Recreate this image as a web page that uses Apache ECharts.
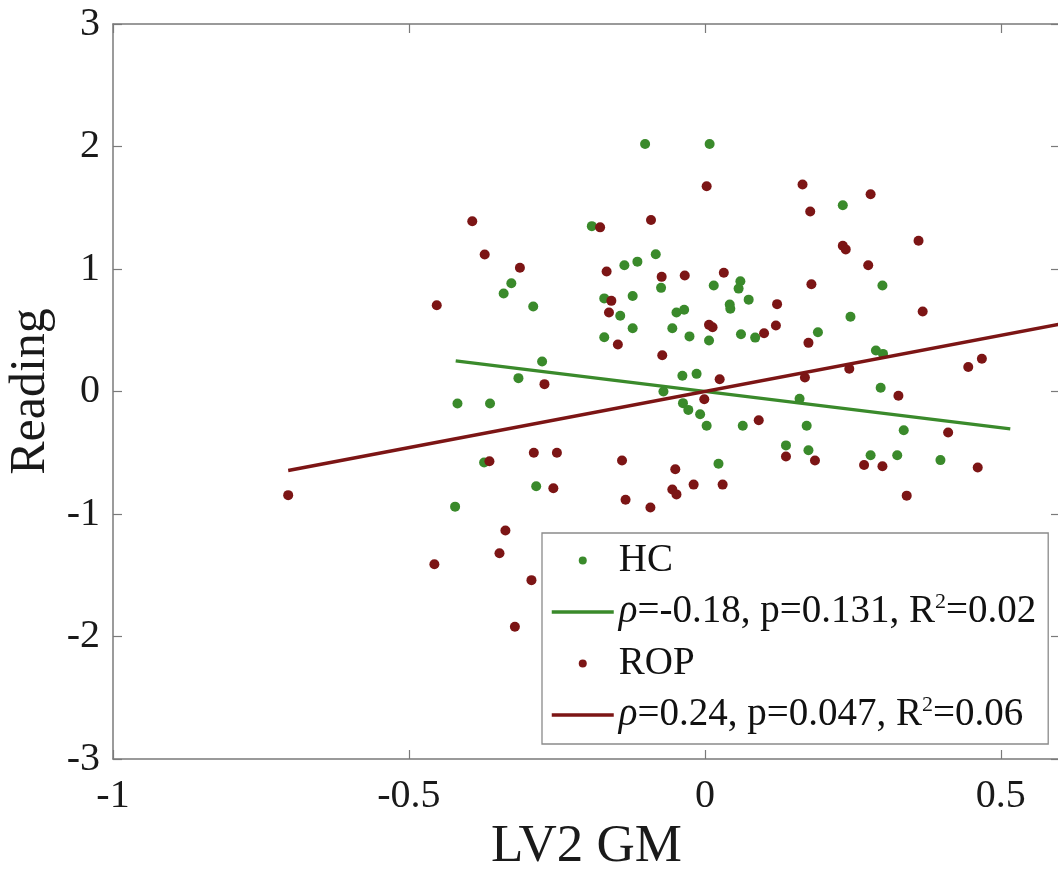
<!DOCTYPE html>
<html>
<head>
<meta charset="utf-8">
<script src="https://cdn.jsdelivr.net/npm/echarts@6/dist/echarts.min.js"></script>
<style>
html,body{margin:0;padding:0;background:#fff;}
#chart{width:1058px;height:870px;}
</style>
</head>
<body>
<div id="chart"></div>
<script>
// ---- data ----
var hcX = [-0.101,0.008,0.233,-0.191,-0.083,-0.136,-0.114,0.015,0.06,0.057,0.30,-0.074,-0.170,-0.122,0.074,0.042,0.043,-0.048,-0.035,-0.143,0.246,-0.122,-0.055,-0.170,-0.026,0.007,0.061,0.085,0.191,0.289,0.301,-0.038,-0.014,-0.070,0.16,0.297,-0.037,-0.028,-0.008,0.003,0.064,0.172,0.336,0.137,0.175,0.280,0.325,0.398,0.023,-0.327,-0.34,-0.29,-0.275,-0.315,-0.418,-0.363,-0.373,-0.285,-0.422];
var hcY = [2.02,2.02,1.52,1.35,1.12,1.03,1.06,0.865,0.90,0.84,0.865,0.846,0.76,0.78,0.75,0.71,0.675,0.645,0.667,0.618,0.61,0.517,0.517,0.443,0.45,0.416,0.468,0.44,0.484,0.335,0.307,0.128,0.144,0.0,-0.06,0.03,-0.095,-0.15,-0.185,-0.28,-0.28,-0.28,-0.316,-0.44,-0.48,-0.52,-0.52,-0.56,-0.59,0.884,0.80,0.694,0.245,0.109,-0.098,-0.098,-0.58,-0.773,-0.94];
var ropX = [0.003,0.165,0.280,0.178,-0.177,-0.091,0.361,0.233,0.238,0.276,-0.166,-0.073,-0.034,0.032,0.180,0.368,-0.158,-0.162,0.122,0.007,0.013,0.12,0.100,-0.147,0.175,-0.072,0.468,0.445,0.244,0.169,0.025,-0.001,0.327,0.091,0.411,-0.25,-0.140,0.137,0.186,0.269,0.30,0.461,-0.050,-0.019,0.030,-0.055,-0.048,-0.134,-0.092,0.341,-0.393,-0.372,-0.3125,-0.453,-0.271,-0.364,-0.289,-0.256,-0.704,-0.337,-0.347,-0.457,-0.293,-0.321];
var ropY = [1.676,1.69,1.61,1.47,1.34,1.40,1.23,1.19,1.16,1.03,0.98,0.936,0.947,0.97,0.876,0.653,0.74,0.645,0.713,0.544,0.525,0.539,0.476,0.384,0.397,0.296,0.267,0.20,0.185,0.114,0.10,-0.063,-0.035,-0.234,-0.335,-0.50,-0.563,-0.53,-0.563,-0.60,-0.61,-0.62,-0.634,-0.76,-0.76,-0.80,-0.84,-0.884,-0.947,-0.85,1.39,1.118,1.01,0.704,0.06,-0.57,-0.50,-0.79,-0.846,-1.135,-1.32,-1.41,-1.54,-1.92];
var hcFitX = [-0.421, 0.516];
var hcFitY = [0.25, -0.305];
var ropFitX = [-0.704, 0.6];
var ropFitY = [-0.645, 0.55];
var seriesNames = ['HC', 'HC fit', 'ROP', 'ROP fit'];
var legendLabels = {
  'HC': 'HC',
  'HC fit': '{i|ρ}=-0.18, p=0.131, R{sup|2}=0.02',
  'ROP': 'ROP',
  'ROP fit': '{i|ρ}=0.24, p=0.047, R{sup|2}=0.06'
};
var xName = 'LV2 GM';
var yName = 'Reading';

function zip(a, b) { return a.map(function (v, i) { return [v, b[i]]; }); }

var GREEN = '#3a8a2b';
var RED = '#7c1515';
var FONT = 'Liberation Serif';
var AXC = '#7a7a7a';

var chart = echarts.init(document.getElementById('chart'), null, {renderer: 'canvas'});
var tickStyle = {show: true, inside: true, length: 9, lineStyle: {color: AXC, width: 1.2}};
var option = {
  backgroundColor: '#fff',
  animation: false,
  grid: {left: 113, top: 24, width: 947, height: 735, containLabel: false, outerBoundsMode: 'none'},
  xAxis: [{
    type: 'value', min: -1, max: 0.6, interval: 0.5, position: 'bottom',
    name: xName, nameLocation: 'middle', nameGap: 62,
    nameTextStyle: {fontFamily: FONT, fontSize: 53, color: '#1a1a1a'},
    axisLine: {show: true, onZero: false, lineStyle: {color: AXC, width: 1.5}},
    axisTick: tickStyle,
    axisLabel: {fontFamily: FONT, fontSize: 40, color: '#1a1a1a', margin: 17, showMaxLabel: false, showMinLabel: true},
    splitLine: {show: false}
  }, {
    type: 'value', min: -1, max: 0.6, interval: 0.5, position: 'top',
    axisLine: {show: true, onZero: false, lineStyle: {color: AXC, width: 1.5}},
    axisTick: tickStyle,
    axisLabel: {show: false},
    splitLine: {show: false}
  }],
  yAxis: [{
    type: 'value', min: -3, max: 3, interval: 1, position: 'left',
    name: yName, nameLocation: 'middle', nameGap: 44,
    nameTextStyle: {fontFamily: FONT, fontSize: 50, color: '#1a1a1a'},
    axisLine: {show: true, onZero: false, lineStyle: {color: AXC, width: 1.5}},
    axisTick: tickStyle,
    axisLabel: {fontFamily: FONT, fontSize: 40, color: '#1a1a1a', margin: 13},
    splitLine: {show: false}
  }, {
    type: 'value', min: -3, max: 3, interval: 1, position: 'right',
    axisLine: {show: true, onZero: false, lineStyle: {color: AXC, width: 1.5}},
    axisTick: tickStyle,
    axisLabel: {show: false},
    splitLine: {show: false}
  }],
  legend: {
    orient: 'vertical', left: 542, top: 533,
    padding: [8, 12, 8, 8], itemGap: 11,
    itemWidth: 62, itemHeight: 8,
    borderColor: '#8a8a8a', borderWidth: 1.3, backgroundColor: '#fff',
    selectedMode: false,
    data: [
      {name: seriesNames[0]},
      {name: seriesNames[1], itemStyle: {opacity: 0}, lineStyle: {width: 3.5, color: GREEN}},
      {name: seriesNames[2]},
      {name: seriesNames[3], itemStyle: {opacity: 0}, lineStyle: {width: 3.5, color: RED}}
    ],
    formatter: function (name) { return legendLabels[name]; },
    textStyle: {
      fontFamily: FONT, fontSize: 39, lineHeight: 38, color: '#111',
      rich: {
        i: {fontFamily: FONT, fontSize: 39, lineHeight: 38, fontStyle: 'italic', color: '#111'},
        sup: {fontFamily: FONT, fontSize: 22, lineHeight: 18, padding: [0, 0, 20, 0], color: '#111'}
      }
    }
  },
  series: [{
    name: seriesNames[0], type: 'scatter', symbol: 'circle', symbolSize: 10,
    itemStyle: {color: GREEN, opacity: 1},
    data: zip(hcX, hcY), z: 2
  }, {
    name: seriesNames[1], type: 'line', symbol: 'none', showSymbol: false,
    lineStyle: {color: GREEN, width: 3.5}, itemStyle: {color: GREEN},
    data: zip(hcFitX, hcFitY), z: 3
  }, {
    name: seriesNames[2], type: 'scatter', symbol: 'circle', symbolSize: 10,
    itemStyle: {color: RED, opacity: 1},
    data: zip(ropX, ropY), z: 4
  }, {
    name: seriesNames[3], type: 'line', symbol: 'none', showSymbol: false,
    lineStyle: {color: RED, width: 3.5}, itemStyle: {color: RED},
    data: zip(ropFitX, ropFitY), z: 5
  }]
};
chart.setOption(option);
</script>
</body>
</html>
